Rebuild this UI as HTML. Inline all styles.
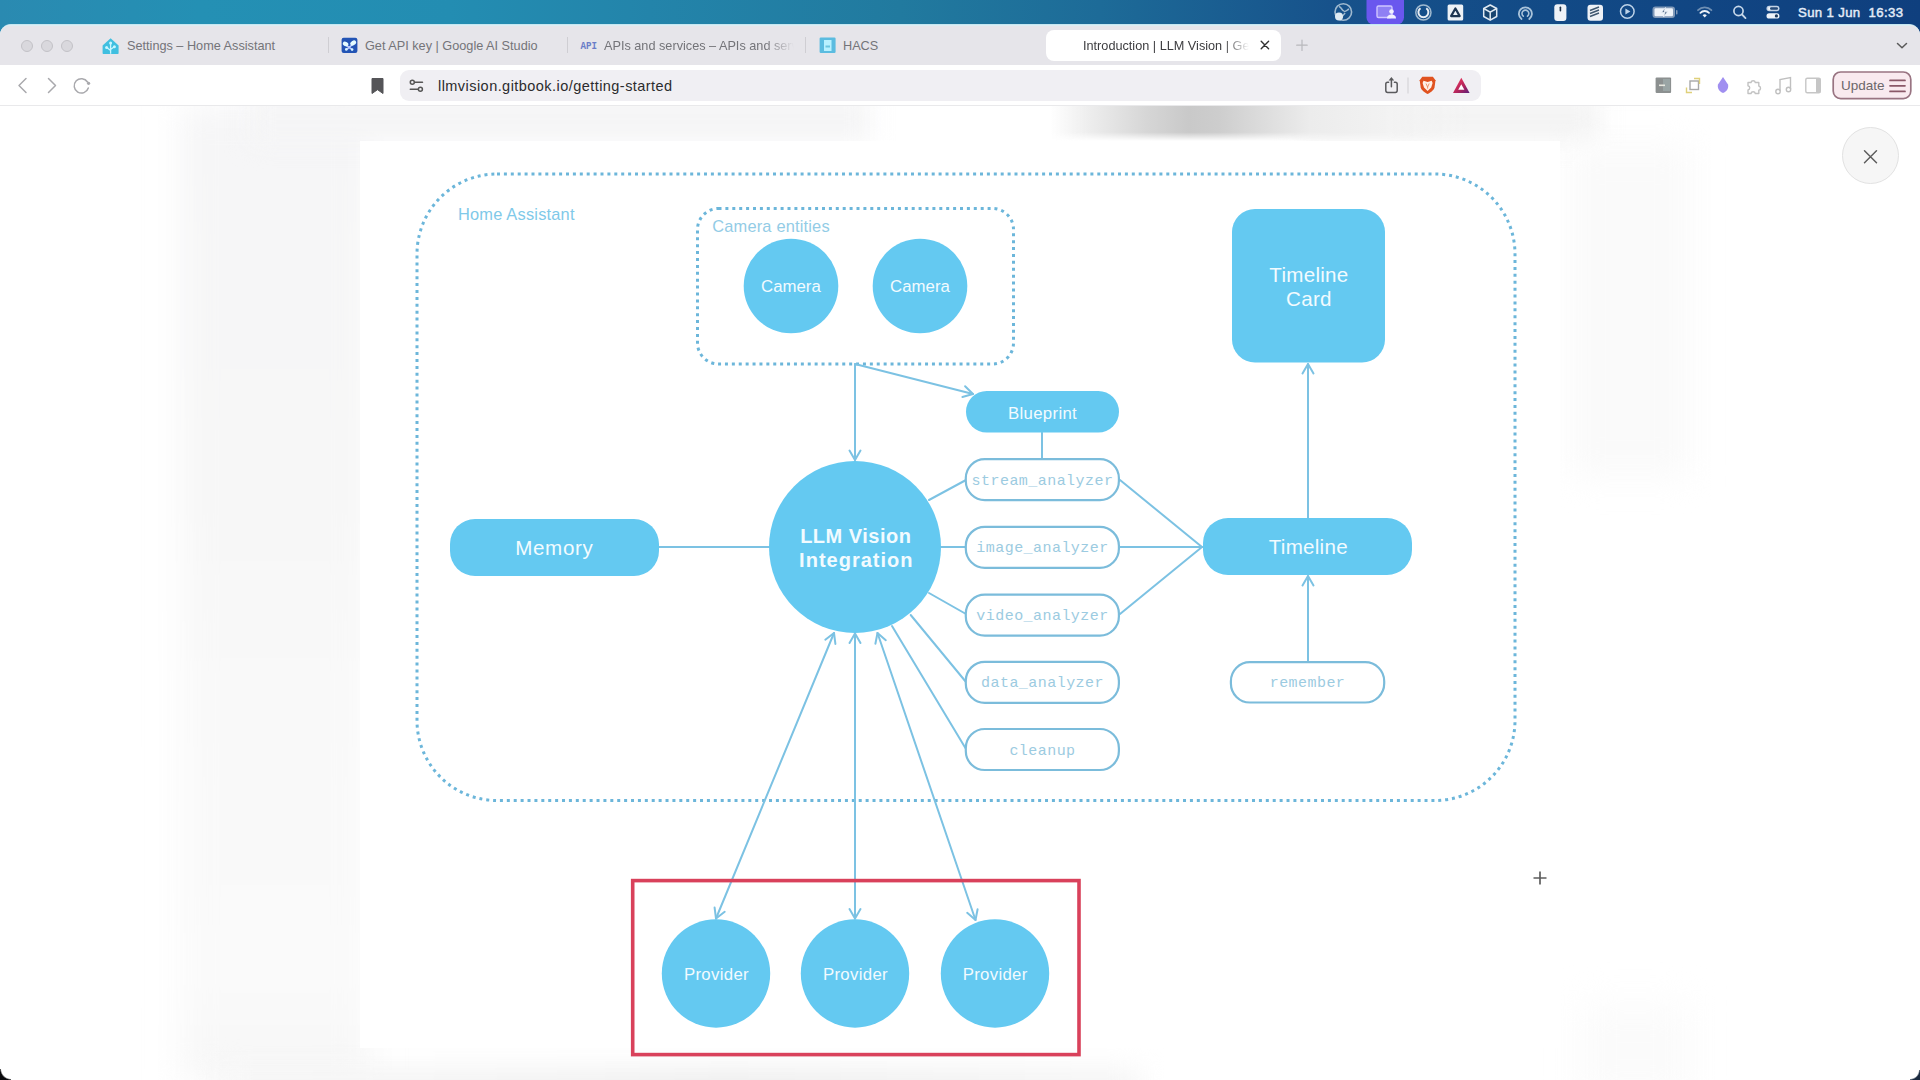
<!DOCTYPE html>
<html>
<head>
<meta charset="utf-8">
<style>
*{margin:0;padding:0;box-sizing:border-box}
html,body{width:1920px;height:1080px;overflow:hidden;background:#fff;font-family:"Liberation Sans",sans-serif}
.abs{position:absolute}
#menubar{position:absolute;left:0;top:0;width:1920px;height:44px;background:linear-gradient(90deg,#2a8ab1 0%,#2490b4 10.4%,#238db2 23.4%,#2384aa 33.9%,#217a9f 46.9%,#1d6b98 57.3%,#17528b 69.3%,#124a86 80.7%,#0f3f7e 100%)}
#win{position:absolute;left:0;top:24px;width:1920px;height:1056px;background:#fff;border-radius:11px 11px 0 0;overflow:hidden;border-top:1px solid #c6e7f1}
#tabbar{position:absolute;left:0;top:0;width:1920px;height:40px;background:#e6e5ea;box-shadow:inset 0 1px 0 #dcedf3}
#toolbar{position:absolute;left:0;top:40px;width:1920px;height:41px;background:#fff;border-bottom:1px solid #e9e9eb}
.tl{position:absolute;top:14.5px;width:12px;height:12px;border-radius:50%;background:#d9d8dd;border:1px solid #c3c2c7}
.tab{position:absolute;top:13.6px;font-size:12.7px;color:#747479;white-space:nowrap;line-height:15px}
.sep{position:absolute;top:12px;width:1px;height:16px;background:#cfced3}
#content{position:absolute;left:0;top:81px;width:1920px;height:974px;background:#fff;overflow:hidden}
</style>
</head>
<body>
<div id="menubar">
  <svg class="abs" style="left:0;top:0" width="1920" height="26" viewBox="0 0 1920 26">
    <!-- OBS -->
    <circle cx="1343.3" cy="12" r="8.3" fill="none" stroke="#9fb9cf" stroke-width="1.6"/>
    <path d="M1339 6.5c3 1 2.5 4 5 4.5M1349 9c-2 1-3 3-5 2.5M1342 18c0-2.5 2-3 3-5" stroke="#9fb9cf" stroke-width="1.5" fill="none"/>
    <circle cx="1339" cy="16.5" r="4" fill="#dfeaf2"/>
    <!-- purple highlight -->
    <rect x="1366.5" y="-6" width="37.5" height="30.5" rx="7" fill="#6a57ee"/>
    <rect x="1377" y="6" width="15" height="11.5" rx="1.5" fill="#8f80f4" stroke="#cfc6ff" stroke-width="1.4"/>
    <circle cx="1391.5" cy="11.5" r="2.3" fill="#f2efff"/>
    <path d="M1387 18.5c0-3 2-4 4.5-4s4.5 1 4.5 4z" fill="#f2efff"/>
    <!-- ring -->
    <circle cx="1423.4" cy="12.5" r="7.6" fill="none" stroke="#9fb9cf" stroke-width="1.5"/>
    <path d="M1420.5 8.2a5 5 0 1 0 5.8 0" fill="none" stroke="#e8eef4" stroke-width="2"/>
    <!-- white square w triangle -->
    <rect x="1447.6" y="4.6" width="15.6" height="16" rx="1.5" fill="#eef2f6"/>
    <path d="M1455.4 8.5l4.3 7.6h-8.6z" fill="none" stroke="#1d3550" stroke-width="2.2" stroke-linejoin="round"/>
    <!-- cube -->
    <path d="M1490.2 5l6.5 3.5v8l-6.5 3.7-6.5-3.7v-8z" fill="#17446f" stroke="#dfe9f2" stroke-width="1.5" stroke-linejoin="round"/>
    <path d="M1483.7 8.5l6.5 3.6 6.5-3.6M1490.2 12.1v8" fill="none" stroke="#dfe9f2" stroke-width="1.5"/>
    <!-- arc -->
    <path d="M1521.5 19a6.5 6.5 0 1 1 7.8 0" fill="none" stroke="#a9c3da" stroke-width="1.8" stroke-linecap="round"/>
    <path d="M1523.3 16.2a3.4 3.4 0 1 1 4.2 0" fill="none" stroke="#a9c3da" stroke-width="1.6" stroke-linecap="round"/>
    <!-- mouse -->
    <rect x="1554.3" y="4.3" width="12.1" height="16.7" rx="3" fill="#eef2f7"/>
    <rect x="1559.6" y="6.5" width="1.6" height="5" rx="0.8" fill="#1d2f45"/>
    <!-- stack -->
    <rect x="1587.5" y="4.7" width="15.5" height="16" rx="3" fill="#eef2f7"/>
    <path d="M1590 10.5l9-3.5M1590 13.5l9-3.5M1590 16.5l9-3.5" stroke="#3f5870" stroke-width="1.4"/>
    <!-- play -->
    <circle cx="1627.3" cy="11.5" r="6.8" fill="none" stroke="#bcd2e8" stroke-width="1.5"/>
    <path d="M1625.4 8.4v6.2l5-3.1z" fill="#bcd2e8"/>
    <!-- battery -->
    <rect x="1652.5" y="6.5" width="22.5" height="11.5" rx="3" fill="#8099b8"/>
    <rect x="1654.5" y="8.3" width="18.5" height="7.9" rx="1.3" fill="#eef3f9"/>
    <rect x="1676" y="10" width="1.5" height="4.5" rx="0.7" fill="#8099b8"/>
    <path d="M1665.5 7.5l-4 5h3.5l-1.5 4.5 4-5.2h-3.4z" fill="#3d587a" stroke="#eef3f9" stroke-width="0.8"/>
    <!-- wifi -->
    <path d="M1698 10.2a9.5 9.5 0 0 1 13.4 0" fill="none" stroke="#6f8fb3" stroke-width="1.8" stroke-linecap="round"/>
    <path d="M1700.4 12.8a6 6 0 0 1 8.6 0" fill="none" stroke="#eef3f9" stroke-width="1.8" stroke-linecap="round"/>
    <path d="M1702.6 15.3a3 3 0 0 1 4.2 0l-2.1 2.1z" fill="#eef3f9"/>
    <!-- search -->
    <circle cx="1738.5" cy="11" r="4.6" fill="none" stroke="#c7d8ea" stroke-width="1.7"/>
    <path d="M1742 14.5l3.5 3.6" stroke="#c7d8ea" stroke-width="1.8" stroke-linecap="round"/>
    <!-- control center -->
    <rect x="1766.5" y="5.8" width="13" height="5.4" rx="2.7" fill="#c4d3e6"/>
    <circle cx="1769.6" cy="8.5" r="1.6" fill="#eef3f9"/>
    <rect x="1770" y="7.3" width="8" height="2.4" rx="1.2" fill="#254a78"/>
    <rect x="1766.5" y="13.2" width="13" height="5.4" rx="2.7" fill="#eef3f9"/>
    <circle cx="1776.4" cy="15.9" r="1.6" fill="#1d3a5c"/>
  </svg>
  <div class="abs" style="left:1798px;top:4.5px;font-size:13.2px;color:#e3ecf8;white-space:pre;line-height:16px;letter-spacing:0.35px;-webkit-text-stroke:0.45px #e3ecf8">Sun 1 Jun  16:33</div>
</div>
<div id="win">
  <div id="tabbar">
    <div class="tl" style="left:21px"></div>
    <div class="tl" style="left:41px"></div>
    <div class="tl" style="left:61px"></div>
    <div class="tab" style="left:127px">Settings – Home Assistant</div>
    <div class="sep" style="left:328px"></div>
    <div class="tab" style="left:365px">Get API key | Google AI Studio</div>
    <div class="sep" style="left:567px"></div>
    <div class="tab" style="left:604px;width:190px;overflow:hidden;-webkit-mask-image:linear-gradient(90deg,#000 85%,transparent)">APIs and services – APIs and services</div>
    <div class="sep" style="left:805px"></div>
    <div class="tab" style="left:843px">HACS</div>
    <div class="abs" style="left:1046px;top:5px;width:235px;height:31px;background:#fff;border-radius:8px"></div>
    <div class="tab" style="left:1083px;color:#3c3c3f;width:166px;overflow:hidden;-webkit-mask-image:linear-gradient(90deg,#000 85%,transparent)">Introduction | LLM Vision | Getting started</div>
    <svg class="abs" style="left:0;top:0" width="1920" height="40" viewBox="0 25 1920 40">
      <!-- HA -->
      <path d="M110.6 38.2l8 7.2v7.8a0.8 0.8 0 0 1-0.8 0.8h-14.4a0.8 0.8 0 0 1-0.8-0.8v-7.8z" fill="#40bfe0"/>
      <path d="M110.6 43v10.7M110.6 50.5l-3.5-2.7M110.6 49.5l3.3-2.5" stroke="#c8f6ff" stroke-width="1.3" fill="none"/>
      <circle cx="110.6" cy="43" r="1.5" fill="#c8f6ff"/><circle cx="106.6" cy="47.5" r="1.5" fill="#c8f6ff"/><circle cx="114.4" cy="46.8" r="1.5" fill="#c8f6ff"/>
      <!-- google ai studio -->
      <rect x="341.6" y="37.7" width="15.8" height="15.3" rx="2" fill="#2354b5"/>
      <path d="M345 44.5L349.3 47.3L353.5 43.5M349.3 47.3L346.5 49.5M349.3 47.3L352 49.5" stroke="#b9c9ff" stroke-width="1.6" fill="none"/>
      <ellipse cx="345.6" cy="44" rx="2.9" ry="2.1" transform="rotate(25 345.6 44)" fill="#e4fbff"/>
      <ellipse cx="353.2" cy="43" rx="3.2" ry="2.2" transform="rotate(-35 353.2 43)" fill="#e4fbff"/>
      <circle cx="346.3" cy="49.4" r="1.3" fill="#d8f6ff"/><circle cx="352.1" cy="49.6" r="1.3" fill="#d8f6ff"/>
      <!-- API -->
      <text x="580.5" y="49.3" font-size="11.5" font-weight="bold" font-family="Liberation Mono, monospace" fill="#6a7dc8" textLength="16.5" lengthAdjust="spacingAndGlyphs">API</text>
      <!-- HACS -->
      <rect x="819.6" y="37.5" width="16" height="15.5" rx="1.2" fill="#5bbce0"/>
      <rect x="824" y="40" width="7.5" height="11" fill="#b8f1ff"/>
      <rect x="825.5" y="45.5" width="4.5" height="2" fill="#6cc6e0"/>
      <!-- close x active tab -->
      <path d="M1261.2 41.3l7.4 7.4M1268.6 41.3l-7.4 7.4" stroke="#333" stroke-width="1.4" stroke-linecap="round"/>
      <!-- plus -->
      <path d="M1302 40v10.5M1296.7 45.2h10.5" stroke="#b8b8bc" stroke-width="1.2" stroke-linecap="round"/>
      <!-- chevron -->
      <path d="M1897.5 43.5l4.5 4.3 4.5-4.3" stroke="#5a5a5a" stroke-width="1.5" fill="none" stroke-linecap="round" stroke-linejoin="round"/>
    </svg>
  </div>
  <div id="toolbar">
    <div class="abs" style="left:400px;top:5px;width:1081px;height:31px;background:#f0eff3;border-radius:9px"></div>
    <div class="abs" style="left:438px;top:12.5px;font-size:14.5px;letter-spacing:0.45px;color:#2b2b2d;line-height:17px">llmvision.gitbook.io/getting-started</div>
    <svg class="abs" style="left:0;top:0" width="1920" height="40" viewBox="0 65 1920 40">
      <g fill="none" stroke="#a9a9ad" stroke-width="1.5" stroke-linecap="round" stroke-linejoin="round">
        <path d="M26 78.5l-7 7 7 7"/>
        <path d="M48.5 78.5l7 7-7 7"/>
        <path d="M87.5 82a7.2 7.2 0 1 0 0.8 6"/>
      </g>
      <circle cx="88.6" cy="83.3" r="1.6" fill="#a9a9ad"/>
      <path d="M372 78.5h11v15l-5.5-3.8-5.5 3.8z" fill="#555558" stroke="#555558" stroke-width="1" stroke-linejoin="round"/>
      <g fill="none" stroke="#555" stroke-width="1.5" stroke-linecap="round">
        <path d="M415 82.2h7.5M410.3 89.3h7.5"/>
        <circle cx="412.3" cy="82.2" r="2"/><circle cx="420.4" cy="89.3" r="2"/>
      </g>
      <g fill="none" stroke="#5a5a5d" stroke-width="1.5" stroke-linecap="round" stroke-linejoin="round">
        <path d="M1388.6 82.3h-1a1.8 1.8 0 0 0-1.8 1.8v6.5a1.8 1.8 0 0 0 1.8 1.8h7.8a1.8 1.8 0 0 0 1.8-1.8v-6.5a1.8 1.8 0 0 0-1.8-1.8h-1"/>
        <path d="M1391.4 86.8V79"/>
      </g>
      <rect x="1407.5" y="77.5" width="1" height="16" fill="#cfcfd3"/><path d="M1388.6 80.5l2.8-3.4 2.8 3.4z" fill="#5a5a5d"/>
      <path d="M1422.3 76.8h10.6l2.6 3.4-1 7.2c-0.6 2.5-4 5.3-6.9 6.6-2.9-1.3-6.3-4.1-6.9-6.6l-1-7.2z" fill="#e0521f"/>
      <path d="M1423.5 80.8l4.1 1.2 4.1-1.2 0.9 2.2-1.4 4.6-3.6 3.4-3.6-3.4-1.4-4.6z" fill="#fff0e6"/><path d="M1426 83.5l1.6 3.5 1.6-3.5M1427.6 87v1.6" stroke="#ec8a5a" stroke-width="0.9" fill="none"/>
      <defs><linearGradient id="bat" x1="0" y1="0" x2="1" y2="1"><stop offset="0" stop-color="#ff3b5c"/><stop offset="0.6" stop-color="#b0245c"/><stop offset="1" stop-color="#5a1e7a"/></linearGradient></defs>
      <path d="M1461.3 77.8l8.3 15.1h-16.6z" fill="url(#bat)"/>
      <path d="M1461.3 84.3l3.1 5.5h-6.2z" fill="#fff"/>
      <rect x="1655.6" y="77.5" width="15.5" height="15.5" rx="1" fill="#8c9090"/>
      <rect x="1663" y="79" width="7" height="12" fill="#9aa5a5"/>
      <rect x="1659" y="84.5" width="6" height="1.6" fill="#e8e8e0"/>
      <rect x="1690" y="81" width="8.5" height="8.5" fill="none" stroke="#a8a8a8" stroke-width="1.4"/>
      <path d="M1694 78.5h5.5v5.5M1686.5 87.5v5h5.5" fill="none" stroke="#dfd07a" stroke-width="1.4"/>
      <path d="M1723 77l5 7.5c0.8 2-0.3 7-5 8.5-4.7-1.5-5.8-6.5-5-8.5z" fill="#a08ff0"/>
      <path d="M1748 82.5h3a2.2 2.2 0 0 1 4.3 0h3.5v3.5a2.2 2.2 0 0 1 0 4.3v3.2h-3.5a2.2 2.2 0 0 0-4.3 0h-3v-3.5a2.2 2.2 0 0 0 0-4.3z" fill="none" stroke="#c2c2c2" stroke-width="1.4" stroke-linejoin="round"/>
      <g fill="none" stroke="#c0c0c0" stroke-width="1.4">
        <path d="M1780 91V79.5l10.5-2V89"/>
        <circle cx="1778" cy="91.5" r="2.2"/><circle cx="1788.5" cy="89.5" r="2.2"/>
      </g>
      <rect x="1805.8" y="78.3" width="14.5" height="14.5" rx="1.5" fill="none" stroke="#c6c6c6" stroke-width="1.4"/>
      <rect x="1816" y="78.3" width="4.3" height="14.5" fill="#c6c6c6"/>
      <rect x="1833.2" y="72" width="77.6" height="26.6" rx="7.5" fill="#f9eaef" stroke="#997482" stroke-width="1.7"/>
      <path d="M1890 80.4h15M1890 85.8h15M1890 91.4h15" stroke="#8a5868" stroke-width="1.7" stroke-linecap="round"/>
    </svg>
    <div class="abs" style="left:1841px;top:12.5px;font-size:13.5px;color:#6c676a;line-height:16px">Update</div>
  </div>
  <div id="content">
    <div class="abs" style="left:180px;top:0;width:190px;height:974px;background:linear-gradient(180deg,#f6f6f7,#f7f7f7 40%,#f9f9f9 60%,#fafafa 90%,#f7f7f7);filter:blur(16px)"></div>
    <div class="abs" style="left:250px;top:-10px;width:620px;height:46px;background:#f5f5f6;filter:blur(12px)"></div>
    <div class="abs" style="left:1300px;top:-10px;width:300px;height:46px;background:#f4f4f4;filter:blur(12px)"></div>
    <div class="abs" style="left:1050px;top:0;width:420px;height:35px;background:linear-gradient(90deg,rgba(240,240,240,0),#eeeeee 9%,#d6d6d6 23%,#c9c9c9 33%,#cdcdcd 40%,#dedede 52%,#ececec 62%,#f2f2f2 80%,rgba(245,245,245,0));-webkit-mask-image:linear-gradient(180deg,#000 75%,transparent)"></div>
    <div class="abs" style="left:220px;top:964px;width:920px;height:40px;background:linear-gradient(90deg,#f6f6f6,#f0f0f0 40%,#ececec 55%,#f1f1f1 80%,#f5f5f5);filter:blur(14px)"></div>
    <div class="abs" style="left:1580px;top:900px;width:110px;height:90px;background:#fbfbfb;filter:blur(18px)"></div>
    <div class="abs" style="left:1570px;top:40px;width:120px;height:330px;background:#fafafa;filter:blur(16px)"></div>
    <div class="abs" style="left:1842px;top:21px;width:57px;height:57px;border-radius:50%;background:#f6f6f6;border:1px solid #e2e2e2"></div>
    <svg class="abs" style="left:1862px;top:42px" width="17" height="17" viewBox="0 0 17 17"><path d="M2.5 2.8L14.5 14.8M14.5 2.8L2.5 14.8" stroke="#5f5f5f" stroke-width="1.5" stroke-linecap="round"/></svg>
    
  </div>
</div>
<div class="abs" style="left:360px;top:141px;width:1200px;height:907px;background:#fff"></div>
<svg class="abs" style="left:0;top:0" width="1920" height="1080" viewBox="0 0 1920 1080">
<!--DIAG-->
<rect x="417" y="174" width="1098" height="626.5" rx="80" fill="none" stroke="#6cb6da" stroke-width="3" stroke-dasharray="3 3.9"/>
<rect x="697.5" y="208.5" width="316" height="155.5" rx="21" fill="none" stroke="#6cb6da" stroke-width="3" stroke-dasharray="3 3.9"/>
<text x="458" y="220" font-size="16.4" fill="#80c9e9" textLength="116.5" lengthAdjust="spacing">Home Assistant</text>
<text x="712.3" y="231.5" font-size="16.4" fill="#93cce6" textLength="117.3" lengthAdjust="spacing">Camera entities</text>
<g stroke="#7cc2e3" stroke-width="2" fill="none" stroke-linecap="round" stroke-linejoin="round"><path d="M855 364L855 460"/><path d="M849.5 450.5L855 460L860.5 450.5"/><path d="M855 364L973 394"/><path d="M962.4 397.0L973 394L965.1 386.3"/><path d="M1042 432.5L1042 459"/><path d="M659 547L770 547"/><path d="M929 500L966 480"/><path d="M941 547L966 547"/><path d="M929 593L966 614"/><path d="M910.7 615L966 682"/><path d="M892 626L966 749"/><path d="M1120 480L1202 547"/><path d="M1120 547L1202 547"/><path d="M1120 614L1202 547"/><path d="M1308 518L1308 364"/><path d="M1313.5 373.5L1308 364L1302.5 373.5"/><path d="M1308 661L1308 576"/><path d="M1313.5 585.5L1308 576L1302.5 585.5"/><path d="M834 633L716 918.5"/><path d="M835.4 643.9L834 633L825.3 639.7"/><path d="M714.6 907.6L716 918.5L724.7 911.8"/><path d="M855 633.5L855 918.5"/><path d="M860.5 643.0L855 633.5L849.5 643.0"/><path d="M849.5 909.0L855 918.5L860.5 909.0"/><path d="M877.5 633L975.5 920"/><path d="M885.8 640.2L877.5 633L875.4 643.8"/><path d="M967.2 912.8L975.5 920L977.6 909.2"/></g>
<g fill="#64c9f1">
<circle cx="791" cy="286" r="47.3"/>
<circle cx="920" cy="286" r="47.3"/>
<circle cx="855" cy="547" r="86"/>
<circle cx="716" cy="973.5" r="54.2"/>
<circle cx="855" cy="973.5" r="54.2"/>
<circle cx="995" cy="973.5" r="54.2"/>
<rect x="966" y="391" width="153" height="41.5" rx="20.75"/>
<rect x="450" y="519" width="209" height="57" rx="25"/>
<rect x="1203" y="518" width="209" height="57" rx="25"/>
<rect x="1232" y="209" width="153" height="153.5" rx="23"/>
</g>
<g fill="#fff" stroke="#7bbcdb" stroke-width="2.2">
<rect x="965.8" y="459.1" width="153.1" height="41" rx="19"/>
<rect x="965.8" y="526.8" width="153.1" height="41" rx="19"/>
<rect x="965.8" y="594.6" width="153.1" height="41" rx="19"/>
<rect x="965.8" y="661.8" width="153.1" height="41" rx="19"/>
<rect x="965.8" y="729.0" width="153.1" height="41" rx="19"/>
<rect x="1230.9" y="662.2" width="153.3" height="40.3" rx="19"/>
</g>
<g fill="#f2fbff" font-size="16.8" text-anchor="middle" lengthAdjust="spacing">
<text x="790.9" y="291.7" textLength="59.8">Camera</text>
<text x="920" y="291.7" textLength="59.8">Camera</text>
<text x="716.3" y="980.4" textLength="64.7">Provider</text>
<text x="855.3" y="980.4" textLength="64.7">Provider</text>
<text x="995" y="980.4" textLength="64.7">Provider</text>
<text x="1042.4" y="418.6" textLength="68.7">Blueprint</text>
</g>
<g fill="#f2fbff" font-size="20.6" text-anchor="middle">
<text x="554" y="555" textLength="77.4" lengthAdjust="spacing">Memory</text>
<text x="1308.2" y="554" textLength="78.8" lengthAdjust="spacing">Timeline</text>
<text x="1308.8" y="281.7" textLength="78.9" lengthAdjust="spacing">Timeline</text>
<text x="1308.8" y="306.2" textLength="45.5" lengthAdjust="spacing">Card</text>
<text x="855.5" y="542.6" font-size="20" font-weight="bold" textLength="110.7" lengthAdjust="spacing">LLM Vision</text>
<text x="855.8" y="566.5" font-size="20" font-weight="bold" textLength="113.4" lengthAdjust="spacing">Integration</text>
</g>
<g fill="#9ccbe1" font-family="Liberation Mono, monospace" font-size="15" letter-spacing="0.45" text-anchor="middle">
<text x="1042.5" y="484.5">stream_analyzer</text>
<text x="1042.5" y="552">image_analyzer</text>
<text x="1042.5" y="619.8">video_analyzer</text>
<text x="1042.5" y="687.2">data_analyzer</text>
<text x="1042.5" y="755">cleanup</text>
<text x="1307.5" y="687">remember</text>
</g>
<rect x="632.7" y="880.6" width="446.3" height="174" fill="none" stroke="#d9415b" stroke-width="3.6"/>
<!--/DIAG-->
</svg>
<div class="abs" style="left:0;top:1069px;width:11px;height:11px;background:radial-gradient(circle at 100% 0,rgba(0,0,0,0) 9.5px,#0a0a0c 11px)"></div>
<div class="abs" style="left:1910px;top:1070px;width:10px;height:10px;background:radial-gradient(circle at 0 0,rgba(0,0,0,0) 8.5px,#1a2a40 10px)"></div>
<svg class="abs" style="left:1533px;top:871px" width="14" height="14" viewBox="0 0 14 14"><path d="M7 0.5V13.5M0.5 7H13.5" stroke="#5e5e5e" stroke-width="1.7"/></svg>
</body>
</html>
